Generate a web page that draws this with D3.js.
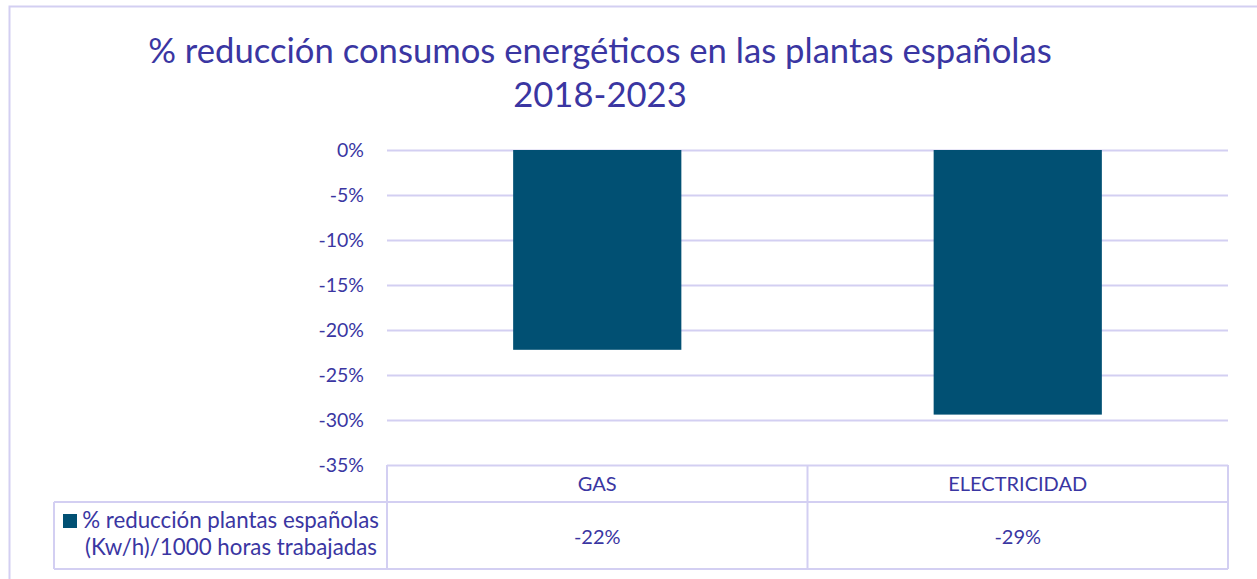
<!DOCTYPE html>
<html><head><meta charset="utf-8">
<script src="https://cdn.jsdelivr.net/npm/d3@7"></script>
<style>body{margin:0;background:#fff}svg{display:block}text{font-family:Lato,"Open Sans",sans-serif}</style>
</head><body>
<svg id="c" width="1257" height="579"></svg>
<script>
const titleLines = ["% reducción consumos energéticos en las plantas españolas", "2018-2023"];
const categories = ["GAS", "ELECTRICIDAD"];
const values = [-22.2, -29.4];
const tableLabels = ["-22%", "-29%"];
const tickValues = [0, -5, -10, -15, -20, -25, -30, -35];
const seriesName = ["% reducción plantas españolas", "(Kw/h)/1000 horas trabajadas"];

const textColor = "#3a36a2", gridColor = "#d3cff2", barColor = "#015073";
const svg = d3.select("#c");
const L = 387, R = 1228, T = 150, B = 465;
const xBand = d3.scaleBand().domain(categories).range([L, R]);
const y = d3.scaleLinear().domain([-35, 0]).range([B, T]);
const barW = xBand.bandwidth() / 2.5;

// outer border
svg.append("path").attr("d", `M9.5,579 V6.5 H1257`).attr("fill", "none").attr("stroke", gridColor).attr("stroke-width", 2);

function fit(sel, w) { const n = sel.node(); const cur = n.getComputedTextLength(); const fs = parseFloat(sel.attr("font-size")); sel.attr("font-size", fs * w / cur); }

// title
const t1 = svg.append("text").attr("x", 600).attr("y", 63).attr("text-anchor", "middle").attr("font-size", 30).attr("fill", textColor).text(titleLines[0]);
fit(t1, 904);
svg.append("text").attr("x", 600).attr("y", 107).attr("text-anchor", "middle").attr("font-size", t1.attr("font-size")).attr("fill", textColor).text(titleLines[1]);

// grid + ticks
const yAxis = d3.axisLeft(y).tickValues(tickValues).tickSize(-(R - L)).tickFormat(d => d + "%");
const g = svg.append("g").attr("transform", `translate(${L},0)`).call(yAxis);
g.select(".domain").remove();
g.selectAll(".tick line").attr("stroke", gridColor).attr("stroke-width", 2);
g.selectAll(".tick text").attr("x", -23).attr("fill", textColor).attr("font-size", 19.5).attr("font-family", "Lato,'Open Sans',sans-serif");

// bars
svg.selectAll("rect.bar").data(values).enter().append("rect")
  .attr("x", (d, i) => xBand(categories[i]) + xBand.bandwidth() / 2 - barW / 2)
  .attr("width", barW)
  .attr("y", d => y(0))
  .attr("height", d => y(d) - y(0))
  .attr("fill", barColor);

// data table
const rowTop = B, rowMid = 502, rowBot = 569, legL = 54;
const ln = (x1, y1, x2, y2) => svg.append("line").attr("x1", x1).attr("y1", y1).attr("x2", x2).attr("y2", y2).attr("stroke", gridColor).attr("stroke-width", 2);
ln(L, rowTop, L, rowBot);
ln(R, rowTop, R, rowBot);
ln(L + xBand.bandwidth(), rowTop, L + xBand.bandwidth(), rowBot);
ln(legL, rowMid, R, rowMid);
ln(legL, rowBot, R, rowBot);
ln(legL, rowMid, legL, rowBot);

categories.forEach((c, i) => {
  const cx = xBand(c) + xBand.bandwidth() / 2;
  svg.append("text").attr("x", cx).attr("y", 491).attr("text-anchor", "middle").attr("font-size", 20).attr("fill", textColor).text(c);
  svg.append("text").attr("x", cx).attr("y", 544).attr("text-anchor", "middle").attr("font-size", 20).attr("fill", textColor).text(tableLabels[i]);
});
svg.append("rect").attr("x", 63).attr("y", 514).attr("width", 14).attr("height", 14).attr("fill", barColor);
const s1 = svg.append("text").attr("x", 379).attr("y", 528).attr("text-anchor", "end").attr("font-size", 18).attr("fill", textColor).text(seriesName[0]);
fit(s1, 297);
svg.append("text").attr("x", 377).attr("y", 555).attr("text-anchor", "end").attr("font-size", s1.attr("font-size")).attr("fill", textColor).text(seriesName[1]);
</script>
</body></html>
